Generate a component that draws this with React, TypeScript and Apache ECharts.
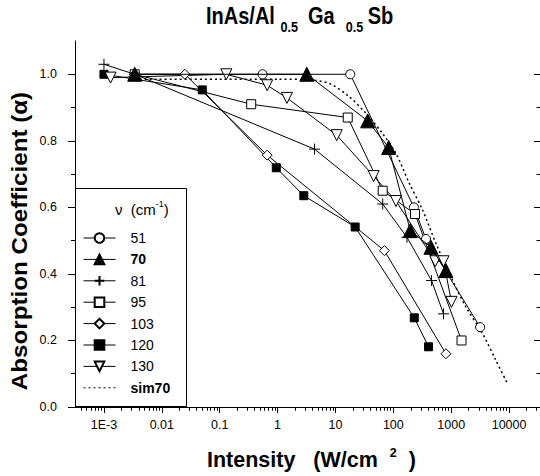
import React, { useEffect, useRef } from 'react';
import * as echarts from 'echarts';

const FONT = '"Liberation Sans", Arial, Helvetica, sans-serif';

// Axis ranges and tick labels
const X_MIN = 3.16e-4;
const X_MAX = 3.42e4;
const Y_MIN = 0;
const Y_MAX = 1.1;
const xTickValues = [0.001, 0.01, 0.1, 1, 10, 100, 1000, 10000];
const xTickLabels = ['1E-3', '0.01', '0.1', '1', '10', '100', '1000', '10000'];
const yTickValues = [0, 0.2, 0.4, 0.6, 0.8, 1.0];
const yMinorValues = [0.1, 0.3, 0.5, 0.7, 0.9];

// Series names (legend)
const seriesNames = ['51', '70', '81', '95', '103', '120', '130', 'sim70'];

// Data: intensity (W/cm^2) and absorption coefficient
const intensity51 = [0.0034, 0.55, 18, 227, 366, 3160];
const alpha51 = [1.0, 1.0, 1.0, 0.60, 0.505, 0.24];

const intensity70 = [0.0034, 3.2, 36, 83, 196, 447, 811];
const alpha70 = [1.0, 1.0, 0.86, 0.78, 0.53, 0.48, 0.41];

const intensity81 = [0.001, 0.0034, 4.35, 65.5, 172, 457, 736];
const alpha81 = [1.03, 1.0, 0.775, 0.61, 0.51, 0.38, 0.28];

const intensity95 = [0.0034, 0.35, 16.3, 65.5, 237, 1507];
const alpha95 = [1.0, 0.91, 0.87, 0.65, 0.58, 0.20];

const intensity103 = [0.0034, 0.025, 0.66, 70, 811];
const alpha103 = [1.0, 1.0, 0.757, 0.47, 0.16];

const intensity120 = [0.001, 0.05, 0.95, 2.84, 21.9, 230, 406];
const alpha120 = [1.0, 0.953, 0.719, 0.635, 0.541, 0.268, 0.181];

const intensity130 = [0.0013, 0.13, 0.66, 1.45, 10.5, 45.7, 111, 530, 736, 1010];
const alpha130 = [0.99, 1.0, 0.967, 0.929, 0.817, 0.694, 0.619, 0.438, 0.438, 0.316];

const intensitySim70 = [0.0034, 0.1, 1, 3.1, 7.9, 17.4, 33.8, 65, 111, 189, 320, 544, 925, 1790, 3470, 5890, 9340];
const alphaSim70 = [0.985, 0.985, 0.985, 0.984, 0.972, 0.932, 0.882, 0.822, 0.762, 0.672, 0.592, 0.492, 0.402, 0.301, 0.221, 0.141, 0.071];

const xMinorValues: number[] = [];
for (let e = -4; e <= 4; e++) {
  for (let m = 2; m <= 9; m++) {
    const v = m * Math.pow(10, e);
    if (v > X_MIN && v < X_MAX) xMinorValues.push(v);
  }
}

const pairs = (xs: number[], ys: number[]) => xs.map((x, i) => [x, ys[i]]);

const fmtX = (v: number) => {
  const i = xTickValues.findIndex((t) => Math.abs(Math.log10(t) - Math.log10(v)) < 0.01);
  return i >= 0 ? xTickLabels[i] : '';
};

const BLACK = '#000';
const lineBase = { color: BLACK, width: 1 };
const openItem = { color: '#fff', borderColor: BLACK, borderWidth: 1 };
const filledItem = { color: BLACK, borderColor: BLACK, borderWidth: 1 };
const plusPath = 'path://M5,0L5,10M0,5L10,5';

export default function App() {
  const ref = useRef<HTMLDivElement>(null);

  useEffect(() => {
    if (!ref.current) return;
    const chart = echarts.init(ref.current, undefined, { renderer: 'svg' });

    const axisLine = { show: true, lineStyle: { color: BLACK, width: 1 } };
    const noLine = { show: false };
    const tickStyle = { color: BLACK, width: 1 };

    const xCommon = {
      type: 'log' as const,
      logBase: 10,
      min: X_MIN,
      max: X_MAX,
      gridIndex: 0,
      splitLine: { show: false },
      minorTick: { show: false },
      minorSplitLine: { show: false },
    };
    const yCommon = {
      type: 'value' as const,
      min: Y_MIN,
      max: Y_MAX,
      gridIndex: 0,
      splitLine: { show: false },
      minorTick: { show: false },
      minorSplitLine: { show: false },
    };

    const mkSeries = (
      name: string,
      xs: number[],
      ys: number[],
      symbol: string,
      symbolSize: number,
      itemStyle: any,
      extra: any = {}
    ) => ({
      name,
      type: 'line',
      xAxisIndex: 0,
      yAxisIndex: 0,
      data: pairs(xs, ys),
      symbol,
      symbolSize,
      showAllSymbol: true,
      itemStyle,
      lineStyle: { ...lineBase },
      emphasis: { disabled: true },
      z: 3,
      ...extra,
    });

    const option: any = {
      animation: false,
      backgroundColor: '#fff',
      grid: { left: 75, top: 41, width: 466, height: 366, containLabel: false },
      xAxis: [
        {
          ...xCommon,
          position: 'bottom',
          axisLine,
          axisTick: { show: true, inside: false, length: 6, customValues: xTickValues, lineStyle: tickStyle },
          axisLabel: {
            show: true,
            customValues: xTickValues,
            formatter: fmtX,
            color: BLACK,
            fontSize: 12.5,
            fontFamily: FONT,
            margin: 11,
          },
        },
        {
          ...xCommon,
          position: 'bottom',
          axisLine: noLine,
          axisTick: { show: true, inside: false, length: 3.5, customValues: xMinorValues, lineStyle: tickStyle },
          axisLabel: { show: false },
        },
        {
          ...xCommon,
          position: 'top',
          axisLine,
          axisTick: { show: true, inside: true, length: 6, customValues: xTickValues, lineStyle: tickStyle },
          axisLabel: { show: false },
        },
        {
          ...xCommon,
          position: 'top',
          axisLine: noLine,
          axisTick: { show: true, inside: true, length: 3.5, customValues: xMinorValues, lineStyle: tickStyle },
          axisLabel: { show: false },
        },
      ],
      yAxis: [
        {
          ...yCommon,
          position: 'left',
          axisLine,
          axisTick: { show: true, inside: false, length: 7, customValues: yTickValues, lineStyle: tickStyle },
          axisLabel: {
            show: true,
            customValues: yTickValues,
            formatter: (v: number) => v.toFixed(1),
            color: BLACK,
            fontSize: 12.5,
            fontFamily: FONT,
            margin: 18,
          },
        },
        {
          ...yCommon,
          position: 'left',
          axisLine: noLine,
          axisTick: { show: true, inside: false, length: 4, customValues: yMinorValues, lineStyle: tickStyle },
          axisLabel: { show: false },
        },
        {
          ...yCommon,
          position: 'right',
          axisLine: noLine,
          axisTick: { show: true, inside: true, length: 6, customValues: yTickValues, lineStyle: tickStyle },
          axisLabel: { show: false },
        },
        {
          ...yCommon,
          position: 'right',
          axisLine: noLine,
          axisTick: { show: true, inside: true, length: 3.5, customValues: yMinorValues, lineStyle: tickStyle },
          axisLabel: { show: false },
        },
      ],
      legend: {
        data: seriesNames,
        orient: 'vertical',
        left: 83,
        top: 231,
        padding: 0,
        itemWidth: 32,
        itemHeight: 12,
        itemGap: 7.4,
        selectedMode: false,
        lineStyle: { color: BLACK, width: 1 },
        textStyle: {
          color: BLACK,
          fontSize: 14,
          fontFamily: FONT,
          padding: [0, 0, 0, 10],
          rich: {
            b: { fontWeight: 'bold', fontSize: 14, fontFamily: FONT, color: BLACK },
          },
        },
        formatter: (n: string) => (n === '70' || n === 'sim70' ? `{b|${n}}` : n),
        z: 10,
      },
      graphic: [
        {
          type: 'rect',
          z: 5,
          shape: { x: 75.5, y: 188.5, width: 111, height: 218 },
          style: { fill: '#fff', stroke: BLACK, lineWidth: 1 },
        },
        {
          type: 'text',
          z: 6,
          x: 115,
          y: 209,
          style: {
            text: 'ν  (cm{sup|-1})',
            fill: BLACK,
            fontSize: 15,
            fontFamily: FONT,
            align: 'left',
            verticalAlign: 'middle',
            lineHeight: 20,
            rich: {
              sup: { fontSize: 9, fontFamily: FONT, fill: BLACK, lineHeight: 9, verticalAlign: 'top' },
            },
          },
        },
        {
          type: 'text',
          x: 206,
          y: 16,
          scaleX: 0.87,
          style: {
            text: 'InAs/Al {s|0.5} Ga  {s|0.5}Sb',
            fill: BLACK,
            fontSize: 23,
            fontWeight: 'bold',
            fontFamily: FONT,
            align: 'left',
            verticalAlign: 'middle',
            lineHeight: 24,
            rich: {
              s: {
                fontSize: 14.5,
                fontWeight: 'bold',
                fontFamily: FONT,
                fill: BLACK,
                lineHeight: 14.5,
                verticalAlign: 'top',
                padding: [16, 5, 0, 0],
              },
            },
          },
        },
        {
          type: 'text',
          x: 207,
          y: 460,
          style: {
            text: 'Intensity   (W/cm  {sup|2}  )',
            fill: BLACK,
            fontSize: 21.5,
            fontWeight: 'bold',
            fontFamily: FONT,
            align: 'left',
            verticalAlign: 'middle',
            lineHeight: 28,
            rich: {
              sup: {
                fontSize: 12.5,
                fontWeight: 'bold',
                fontFamily: FONT,
                fill: BLACK,
                lineHeight: 13,
                verticalAlign: 'top',
              },
            },
          },
        },
        {
          type: 'text',
          x: 19,
          y: 241,
          rotation: Math.PI / 2,
          scaleX: 1.1,
          style: {
            text: 'Absorption Coefficient (α)',
            fill: BLACK,
            fontSize: 22,
            fontWeight: 'bold',
            fontFamily: FONT,
            align: 'center',
            verticalAlign: 'middle',
          },
        },
      ],
      series: [
        mkSeries('51', intensity51, alpha51, 'circle', 9, openItem),
        mkSeries('70', intensity70, alpha70, 'triangle', 14, filledItem, { z: 4 }),
        mkSeries('81', intensity81, alpha81, plusPath, 11, filledItem),
        mkSeries('95', intensity95, alpha95, 'rect', 9, openItem),
        mkSeries('103', intensity103, alpha103, 'diamond', 10, openItem),
        mkSeries('120', intensity120, alpha120, 'rect', 8, filledItem),
        mkSeries('130', intensity130, alpha130, 'triangle', 11, openItem, { symbolRotate: 180 }),
        {
          name: 'sim70',
          type: 'line',
          xAxisIndex: 0,
          yAxisIndex: 0,
          data: pairs(intensitySim70, alphaSim70),
          symbol: 'none',
          smooth: 0.3,
          lineStyle: { color: BLACK, width: 1.5, type: [2, 3] },
          itemStyle: { color: 'rgba(0,0,0,0)', borderColor: 'rgba(0,0,0,0)', borderWidth: 0 },
          emphasis: { disabled: true },
          z: 2,
        },
      ],
    };

    chart.setOption(option);
    return () => chart.dispose();
  }, []);

  return (
    <div
      ref={ref}
      style={{ position: 'fixed', left: 0, top: 0, width: 540, height: 476, background: '#fff' }}
    />
  );
}
